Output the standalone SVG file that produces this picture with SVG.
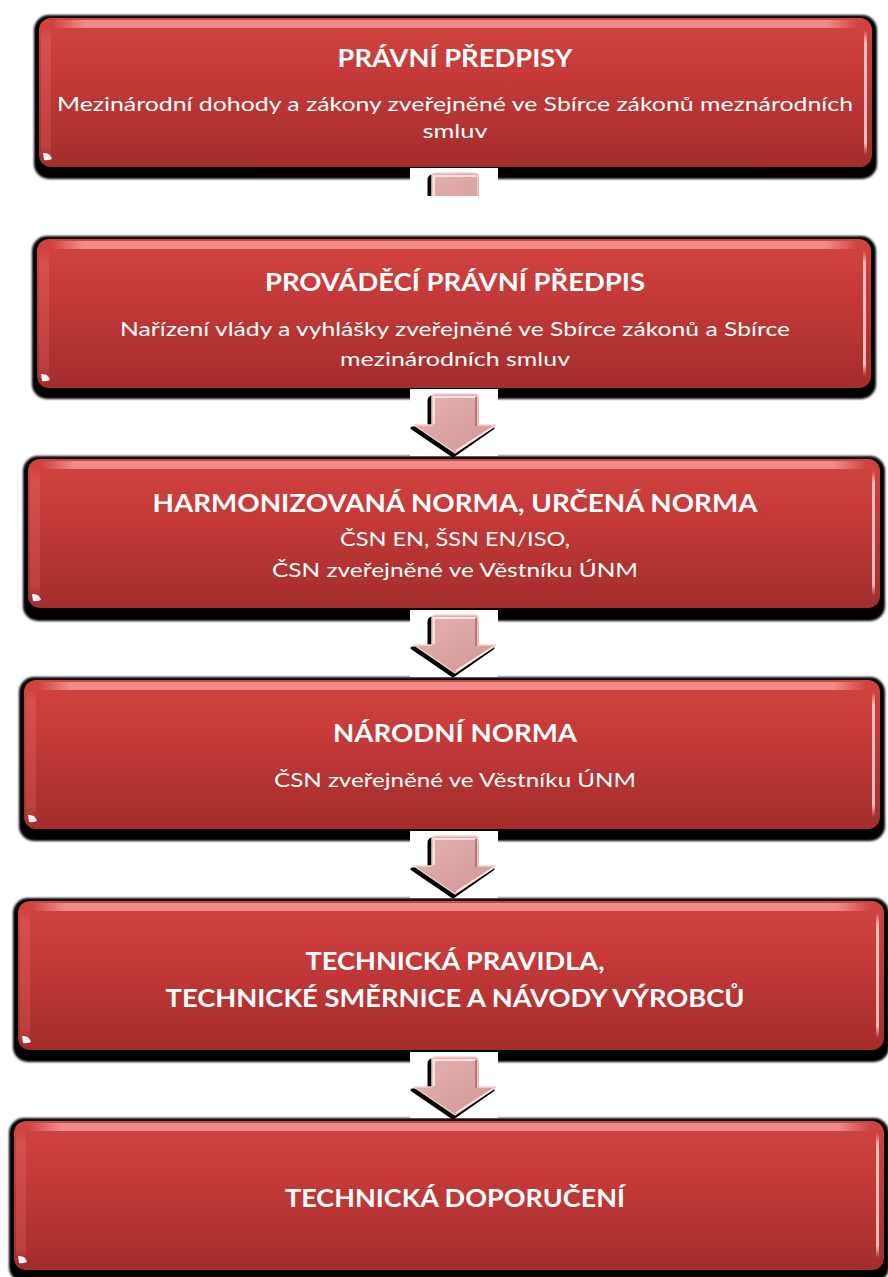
<svg xmlns="http://www.w3.org/2000/svg" width="888" height="1277" viewBox="0 0 888 1277">
<defs>
<linearGradient id="bodyGrad" x1="0" y1="0" x2="0" y2="1">
<stop offset="0" stop-color="#d04341"/>
<stop offset="0.35" stop-color="#c63b39"/>
<stop offset="1" stop-color="#a22d2b"/>
</linearGradient>
<linearGradient id="topGrad" x1="0" y1="0" x2="1" y2="0">
<stop offset="0" stop-color="#f59896" stop-opacity="0"/>
<stop offset="0.04" stop-color="#f59896" stop-opacity="0.85"/>
<stop offset="0.96" stop-color="#f59896" stop-opacity="0.85"/>
<stop offset="1" stop-color="#f59896" stop-opacity="0"/>
</linearGradient>
<linearGradient id="leftGrad" x1="0" y1="0" x2="0" y2="1">
<stop offset="0" stop-color="#e06461" stop-opacity="0"/>
<stop offset="0.1" stop-color="#e06461" stop-opacity="0.45"/>
<stop offset="0.9" stop-color="#d05452" stop-opacity="0.45"/>
<stop offset="1" stop-color="#d05452" stop-opacity="0"/>
</linearGradient>
<linearGradient id="rightGrad" x1="0" y1="0" x2="0" y2="1">
<stop offset="0" stop-color="#ffe0df" stop-opacity="0"/>
<stop offset="0.1" stop-color="#ffd6d5" stop-opacity="0.85"/>
<stop offset="0.9" stop-color="#ffd6d5" stop-opacity="0.85"/>
<stop offset="1" stop-color="#ffe0df" stop-opacity="0"/>
</linearGradient>
<linearGradient id="arrowGrad" x1="0" y1="0" x2="1" y2="1">
<stop offset="0" stop-color="#e6b4b3"/>
<stop offset="1" stop-color="#d09593"/>
</linearGradient>
<filter id="soft" x="-5%" y="-10%" width="110%" height="130%">
<feGaussianBlur stdDeviation="0.8"/>
</filter>
<clipPath id="clipA1"><rect x="400" y="160" width="110" height="36"/></clipPath>
</defs>
<style>
.shadow{fill:#000;filter:url(#soft)}
.body{fill:url(#bodyGrad)}
.topb{fill:url(#topGrad)}
.leftb{fill:url(#leftGrad)}
.rightb{fill:url(#rightGrad)}
.glare{fill:#fff;opacity:0.95}
.t{font-family:Lato,"Liberation Sans",sans-serif;font-weight:700;font-size:24px;fill:#fff;text-anchor:middle}
.s{font-family:Lato,"Liberation Sans",sans-serif;font-weight:400;font-size:20px;fill:#fff;text-anchor:middle}
.bg{fill:#fff}
.ash{fill:#000;stroke:#000;stroke-width:3;stroke-linejoin:round}
.af{fill:url(#arrowGrad);stroke:#f4d2d1;stroke-width:1.5;stroke-linejoin:round}
.ahl{fill:none;stroke:#fbe4e3;stroke-width:2}
.adk{fill:none;stroke:#b87472;stroke-width:2}
</style>

<g id="box1">
<rect class="shadow" x="34" y="15" width="843" height="164" rx="15"/>
<rect class="body" x="39" y="18" width="833" height="149" rx="12"/>
<rect class="leftb" x="41" y="26" width="10" height="133" rx="4"/>
<rect class="topb" x="52" y="20" width="807" height="8" rx="4"/>
<rect class="rightb" x="864" y="30" width="3" height="125"/>
<path class="glare" d="M43,153 Q50,152 52,159 Q47,161 44,160 Z"/>
<text class="t" x="455" y="67" textLength="235" lengthAdjust="spacingAndGlyphs">PRÁVNÍ PŘEDPISY</text>
<text class="s" x="455" y="111" textLength="796" lengthAdjust="spacingAndGlyphs">Mezinárodní dohody a zákony zveřejněné ve Sbírce zákonů meznárodních</text>
<text class="s" x="455" y="138" textLength="65" lengthAdjust="spacingAndGlyphs">smluv</text>
</g>

<g id="box2">
<rect class="shadow" x="32" y="236" width="844" height="163" rx="15"/>
<rect class="body" x="37" y="239" width="834" height="149" rx="12"/>
<rect class="leftb" x="39" y="247" width="10" height="133" rx="4"/>
<rect class="topb" x="50" y="241" width="808" height="8" rx="4"/>
<rect class="rightb" x="863" y="251" width="3" height="125"/>
<path class="glare" d="M41,374 Q48,373 50,380 Q45,382 42,381 Z"/>
<text class="t" x="455" y="291" textLength="380" lengthAdjust="spacingAndGlyphs">PROVÁDĚCÍ PRÁVNÍ PŘEDPIS</text>
<text class="s" x="455" y="336" textLength="670" lengthAdjust="spacingAndGlyphs">Nařízení vlády a vyhlášky zveřejněné ve Sbírce zákonů a Sbírce</text>
<text class="s" x="455" y="366" textLength="230" lengthAdjust="spacingAndGlyphs">mezinárodních smluv</text>
</g>

<g id="box3">
<rect class="shadow" x="23" y="456" width="862" height="165" rx="15"/>
<rect class="body" x="28" y="459" width="852" height="149" rx="12"/>
<rect class="leftb" x="30" y="467" width="10" height="133" rx="4"/>
<rect class="topb" x="41" y="461" width="826" height="8" rx="4"/>
<rect class="rightb" x="872" y="471" width="3" height="125"/>
<path class="glare" d="M32,594 Q39,593 41,600 Q36,602 33,601 Z"/>
<text class="t" x="455" y="512" textLength="605" lengthAdjust="spacingAndGlyphs">HARMONIZOVANÁ NORMA, URČENÁ NORMA</text>
<text class="s" x="455" y="546" textLength="230" lengthAdjust="spacingAndGlyphs">ČSN EN, ŠSN EN/ISO,</text>
<text class="s" x="455" y="577" textLength="366" lengthAdjust="spacingAndGlyphs">ČSN zveřejněné ve Věstníku ÚNM</text>
</g>

<g id="box4">
<rect class="shadow" x="19" y="677" width="866" height="164" rx="15"/>
<rect class="body" x="24" y="680" width="856" height="149" rx="12"/>
<rect class="leftb" x="26" y="688" width="10" height="133" rx="4"/>
<rect class="topb" x="37" y="682" width="830" height="8" rx="4"/>
<rect class="rightb" x="872" y="692" width="3" height="125"/>
<path class="glare" d="M28,815 Q35,814 37,821 Q32,823 29,822 Z"/>
<text class="t" x="455" y="742" textLength="244" lengthAdjust="spacingAndGlyphs">NÁRODNÍ NORMA</text>
<text class="s" x="455" y="787" textLength="362" lengthAdjust="spacingAndGlyphs">ČSN zveřejněné ve Věstníku ÚNM</text>
</g>

<g id="box5">
<rect class="shadow" x="13" y="898" width="876" height="164" rx="15"/>
<rect class="body" x="18" y="901" width="866" height="149" rx="12"/>
<rect class="leftb" x="20" y="909" width="10" height="133" rx="4"/>
<rect class="topb" x="31" y="903" width="840" height="8" rx="4"/>
<rect class="rightb" x="876" y="913" width="3" height="125"/>
<path class="glare" d="M22,1036 Q29,1035 31,1042 Q26,1044 23,1043 Z"/>
<text class="t" x="455" y="970" textLength="299" lengthAdjust="spacingAndGlyphs">TECHNICKÁ PRAVIDLA,</text>
<text class="t" x="455" y="1007" textLength="579" lengthAdjust="spacingAndGlyphs">TECHNICKÉ SMĚRNICE A NÁVODY VÝROBCŮ</text>
</g>

<g id="box6">
<rect class="shadow" x="9" y="1118" width="880" height="164" rx="15"/>
<rect class="body" x="14" y="1121" width="870" height="149" rx="12"/>
<rect class="leftb" x="16" y="1129" width="10" height="133" rx="4"/>
<rect class="topb" x="27" y="1123" width="844" height="8" rx="4"/>
<rect class="rightb" x="876" y="1133" width="3" height="125"/>
<path class="glare" d="M18,1256 Q25,1255 27,1262 Q22,1264 19,1263 Z"/>
<text class="t" x="455" y="1207" textLength="340" lengthAdjust="spacingAndGlyphs">TECHNICKÁ DOPORUČENÍ</text>
</g>

<g id="connectors">
<g id="arrow1">
<rect class="bg" x="410" y="168" width="88" height="30"/>
<g clip-path="url(#clipA1)">
<path class="ash" d="M429,180 Q429,176 433,176 L473,176 Q477,176 477,180 L477,206 L493,206 L453,236 L412,206 L429,206 Z"/>
<path class="af" d="M432,176 Q432,173 435,173 L475,173 Q478,173 478,176 L478,203 L496,203 L455,233 L414,203 L432,203 Z"/>
<path class="ahl" d="M434,200 L434,176 L476,176"/>
</g>
</g>
<g id="arrow2">
<rect class="bg" x="410" y="389" width="88" height="67"/>
<path class="ash" d="M429,401 Q429,397 433,397 L473,397 Q477,397 477,401 L477,428 L493,428 L453,456 L412,428 L429,428 Z"/>
<path class="af" d="M432,397 Q432,394 435,394 L475,394 Q478,394 478,397 L478,425 L496,425 L455,453 L414,425 L432,425 Z"/>
<path class="ahl" d="M434,424 L434,397 L476,397"/>
<path class="adk" d="M476,397 L476,426"/>
<path class="ahl" d="M493,427 L456,451"/>
</g>
<g id="arrow3">
<rect class="bg" x="410" y="610" width="88" height="67"/>
<path class="ash" d="M429,622 Q429,618 433,618 L473,618 Q477,618 477,622 L477,648 L493,648 L453,676 L412,648 L429,648 Z"/>
<path class="af" d="M432,618 Q432,615 435,615 L475,615 Q478,615 478,618 L478,645 L496,645 L455,673 L414,645 L432,645 Z"/>
<path class="ahl" d="M434,644 L434,618 L476,618"/>
<path class="adk" d="M476,618 L476,646"/>
<path class="ahl" d="M493,647 L456,671"/>
</g>
<g id="arrow4">
<rect class="bg" x="410" y="831" width="88" height="67"/>
<path class="ash" d="M429,843 Q429,839 433,839 L473,839 Q477,839 477,843 L477,869 L493,869 L453,897 L412,869 L429,869 Z"/>
<path class="af" d="M432,839 Q432,836 435,836 L475,836 Q478,836 478,839 L478,866 L496,866 L455,894 L414,866 L432,866 Z"/>
<path class="ahl" d="M434,865 L434,839 L476,839"/>
<path class="adk" d="M476,839 L476,867"/>
<path class="ahl" d="M493,868 L456,892"/>
</g>
<g id="arrow5">
<rect class="bg" x="410" y="1052" width="88" height="66"/>
<path class="ash" d="M429,1064 Q429,1060 433,1060 L473,1060 Q477,1060 477,1064 L477,1090 L493,1090 L453,1118 L412,1090 L429,1090 Z"/>
<path class="af" d="M432,1060 Q432,1057 435,1057 L475,1057 Q478,1057 478,1060 L478,1087 L496,1087 L455,1115 L414,1087 L432,1087 Z"/>
<path class="ahl" d="M434,1086 L434,1060 L476,1060"/>
<path class="adk" d="M476,1060 L476,1088"/>
<path class="ahl" d="M493,1089 L456,1113"/>
</g>
</g>
</svg>
